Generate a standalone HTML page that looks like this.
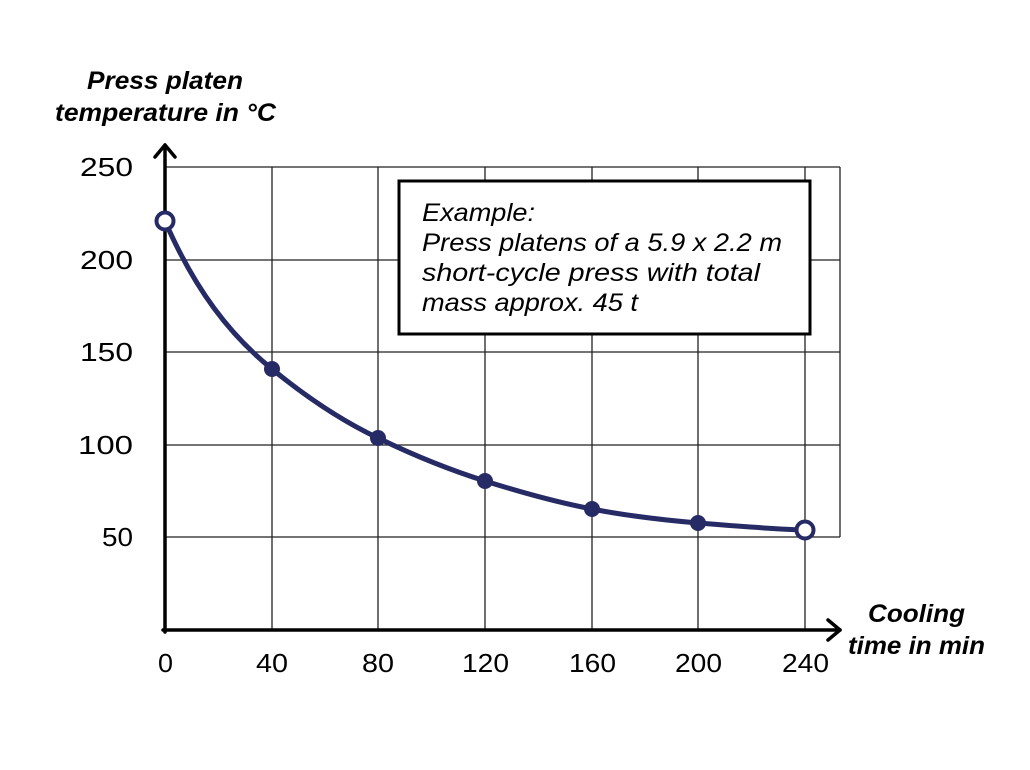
<!DOCTYPE html>
<html><head><meta charset="utf-8"><style>
html,body{margin:0;padding:0;background:#fff;}
svg{display:block;}
text{font-family:"Liberation Sans","DejaVu Sans",sans-serif;}
</style></head><body>
<svg width="1030" height="770" viewBox="0 0 1030 770" xmlns="http://www.w3.org/2000/svg">
<g stroke="#222" stroke-width="1.3" fill="none">
<line x1="165" y1="167" x2="840" y2="167"/>
<line x1="165" y1="260" x2="840" y2="260"/>
<line x1="165" y1="352" x2="840" y2="352"/>
<line x1="165" y1="445" x2="840" y2="445"/>
<line x1="165" y1="537" x2="840" y2="537"/>
<line x1="272" y1="167" x2="272" y2="630"/>
<line x1="378" y1="167" x2="378" y2="630"/>
<line x1="485" y1="167" x2="485" y2="630"/>
<line x1="592" y1="167" x2="592" y2="630"/>
<line x1="698" y1="167" x2="698" y2="630"/>
<line x1="805" y1="167" x2="805" y2="630"/>
<line x1="840" y1="167" x2="840" y2="537"/>
</g>
<g stroke="#000" stroke-width="3.5" fill="none" stroke-linecap="round" stroke-linejoin="round">
<line x1="165" y1="632" x2="165" y2="145"/>
<polyline points="155,157 165,145 175,157"/>
<line x1="163" y1="630" x2="840" y2="630"/>
<polyline points="828,620 840,630 828,640"/>
</g>
<rect x="399" y="181" width="411" height="153" fill="#fff" stroke="#000" stroke-width="3"/>
<g font-size="25" font-style="italic" fill="#000" lengthAdjust="spacingAndGlyphs">
<text x="422" y="221" textLength="113" lengthAdjust="spacingAndGlyphs">Example:</text>
<text x="422" y="251" textLength="360" lengthAdjust="spacingAndGlyphs">Press platens of a 5.9 x 2.2 m</text>
<text x="422" y="281" textLength="338" lengthAdjust="spacingAndGlyphs">short-cycle press with total</text>
<text x="422" y="311" textLength="216" lengthAdjust="spacingAndGlyphs">mass approx. 45 t</text>
</g>
<g font-size="25" font-style="italic" font-weight="bold" fill="#000">
<text x="87" y="89" textLength="156" lengthAdjust="spacingAndGlyphs">Press platen</text>
<text x="55" y="121" textLength="221" lengthAdjust="spacingAndGlyphs">temperature in °C</text>
<text x="868" y="622" textLength="97" lengthAdjust="spacingAndGlyphs">Cooling</text>
<text x="848" y="654" textLength="137" lengthAdjust="spacingAndGlyphs">time in min</text>
</g>
<g font-size="26" fill="#000">
<text x="80" y="176" textLength="53" lengthAdjust="spacingAndGlyphs">250</text>
<text x="80" y="269" textLength="53" lengthAdjust="spacingAndGlyphs">200</text>
<text x="80" y="361" textLength="53" lengthAdjust="spacingAndGlyphs">150</text>
<text x="78" y="454" textLength="55" lengthAdjust="spacingAndGlyphs">100</text>
<text x="102" y="546" textLength="31" lengthAdjust="spacingAndGlyphs">50</text>
</g>
<g font-size="26" fill="#000">
<text x="158" y="672" textLength="15" lengthAdjust="spacingAndGlyphs">0</text>
<text x="256" y="672" textLength="32" lengthAdjust="spacingAndGlyphs">40</text>
<text x="362" y="672" textLength="32" lengthAdjust="spacingAndGlyphs">80</text>
<text x="462" y="672" textLength="47" lengthAdjust="spacingAndGlyphs">120</text>
<text x="569" y="672" textLength="47" lengthAdjust="spacingAndGlyphs">160</text>
<text x="675" y="672" textLength="47" lengthAdjust="spacingAndGlyphs">200</text>
<text x="782" y="672" textLength="47" lengthAdjust="spacingAndGlyphs">240</text>
</g>
<path d="M165,221 C195,290 230,335 272,369 C305,396 340,420 378,438 C415,456 450,470 485,481 C520,492 555,502 592,509 C628,516 663,520 698,523 C735,526 770,529 805,530" fill="none" stroke="#262b66" stroke-width="5"/>
<g fill="#262b66">
<circle cx="272" cy="369" r="8"/>
<circle cx="378" cy="438" r="8"/>
<circle cx="485" cy="481" r="8"/>
<circle cx="592" cy="509" r="8"/>
<circle cx="698" cy="523" r="8"/>
</g>
<g fill="#fff" stroke="#262b66" stroke-width="4">
<circle cx="165" cy="221" r="8.5"/>
<circle cx="805" cy="530" r="8.5"/>
</g>
</svg>
</body></html>
